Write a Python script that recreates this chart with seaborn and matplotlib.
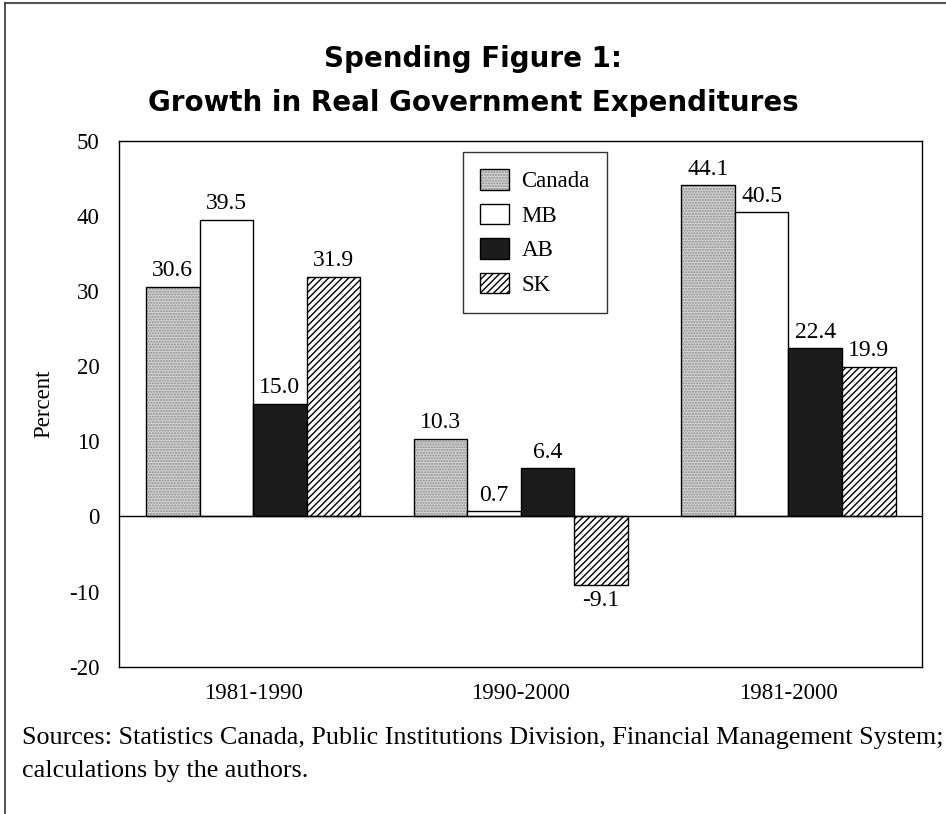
import matplotlib
matplotlib.use("Agg")
import matplotlib.pyplot as plt
from matplotlib.patches import Patch
from matplotlib.lines import Line2D
import seaborn as sns
import pandas as pd

# Data: growth in real government expenditures (percent)
periods = ["1981-1990", "1990-2000", "1981-2000"]
regions = ["Canada", "MB", "AB", "SK"]
canada = [30.6, 10.3, 44.1]
mb = [39.5, 0.7, 40.5]
ab = [15.0, 6.4, 22.4]
sk = [31.9, -9.1, 19.9]

rows = []
for reg, vals in zip(regions, [canada, mb, ab, sk]):
    for per, v in zip(periods, vals):
        rows.append({"period": per, "region": reg, "value": v})
df = pd.DataFrame(rows)

sns.set_theme(style="white")
plt.rcParams["font.family"] = ["Liberation Serif", "DejaVu Serif"]
plt.rcParams["hatch.linewidth"] = 1.0
plt.rcParams["axes.unicode_minus"] = False
plt.rcParams["text.color"] = "black"
plt.rcParams["xtick.color"] = "black"
plt.rcParams["ytick.color"] = "black"
plt.rcParams["axes.labelcolor"] = "black"

fig = plt.figure(figsize=(9.46, 8.14), dpi=100)
ax = fig.add_axes([0.126, 0.181, 0.849, 0.646])

sns.barplot(data=df, x="period", y="value", hue="region", order=periods,
            hue_order=regions, width=0.8, ax=ax, edgecolor="black",
            linewidth=1.0, legend=False, errorbar=None)

styles = {
    "Canada": dict(facecolor="#d4d4d4", hatch="......"),
    "MB": dict(facecolor="white", hatch=None),
    "AB": dict(facecolor="#1c1c1c", hatch=None),
    "SK": dict(facecolor="white", hatch="/////"),
}

handles = []
for cont, reg in zip(ax.containers, regions):
    st = styles[reg]
    for bar in cont:
        bar.set_facecolor(st["facecolor"])
        bar.set_edgecolor("black")
        if st["hatch"]:
            bar.set_hatch(st["hatch"])
    ax.bar_label(cont, fmt="%.1f", padding=4, fontsize=17)
    handles.append(Patch(facecolor=st["facecolor"], edgecolor="black",
                         hatch=st["hatch"], linewidth=1.0, label=reg))

# Softer stipple colour for the Canada bars
for bar in ax.containers[0]:
    bar._hatch_color = matplotlib.colors.to_rgba("#8a8a8a")
handles[0]._hatch_color = matplotlib.colors.to_rgba("#8a8a8a")

ax.axhline(0, color="black", linewidth=1.0, zorder=3)
ax.set_ylim(-20, 50)
ax.set_xlim(-0.5, 2.5)
ax.set_yticks([-20, -10, 0, 10, 20, 30, 40, 50])
ax.tick_params(axis="both", length=0, labelsize=16.5, pad=14)
ax.tick_params(axis="x", pad=12)
ax.set_xlabel("")
ax.set_ylabel("Percent", fontsize=16.5, labelpad=11)
for sp in ax.spines.values():
    sp.set_visible(True)
    sp.set_color("black")
    sp.set_linewidth(1.0)

leg = ax.legend(handles=handles, loc="upper left",
                bbox_to_anchor=(0.428, 0.979), borderaxespad=0,
                fontsize=16.5, frameon=True,
                fancybox=False, edgecolor="black", handlelength=1.25,
                handleheight=1.0, labelspacing=0.5, borderpad=0.75,
                handletextpad=0.55)
leg.get_frame().set_linewidth(1.0)

# Title
title_font = ["DejaVu Sans"]
fig.text(0.5, 0.928, "Spending Figure 1:", ha="center", va="center",
         fontsize=20, fontweight="heavy", family=title_font, color="black")
fig.text(0.5, 0.874, "Growth in Real Government Expenditures", ha="center",
         va="center", fontsize=20, fontweight="heavy", family=title_font,
         color="black")

# Source note
fig.text(0.023, 0.093,
         "Sources: Statistics Canada, Public Institutions Division, Financial Management System;",
         ha="left", va="center", fontsize=18.8)
fig.text(0.023, 0.053, "calculations by the authors.", ha="left",
         va="center", fontsize=18.8)

# Page frame
fig.add_artist(Line2D([0.005, 1.0], [0.996, 0.996], color="#555555",
                      linewidth=1.5, transform=fig.transFigure))
fig.add_artist(Line2D([0.005, 0.005], [0.0, 0.996], color="#333333",
                      linewidth=1.2, transform=fig.transFigure))

fig.savefig("out.png", dpi=100)
